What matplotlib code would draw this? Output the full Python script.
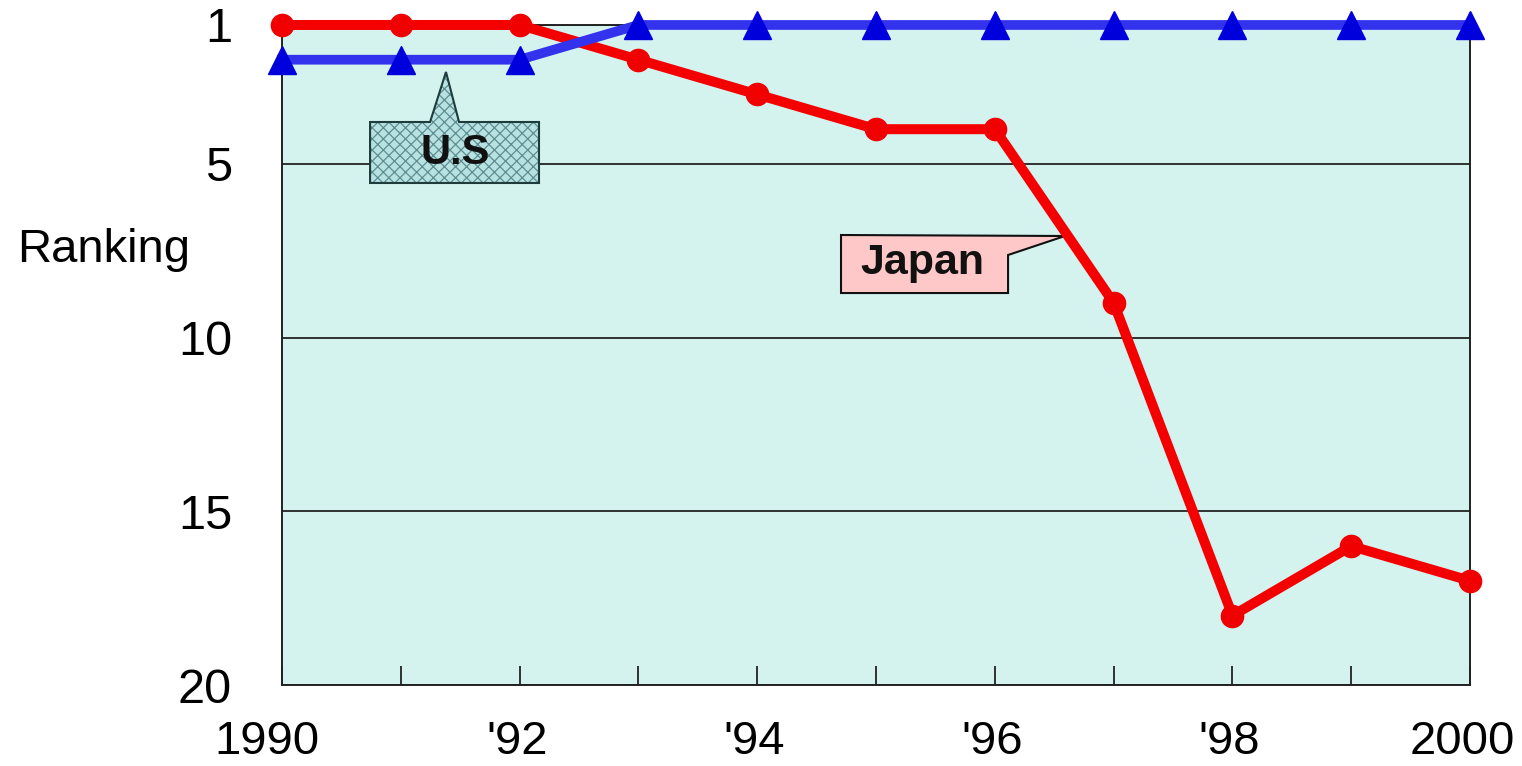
import matplotlib
matplotlib.use("Agg")
import matplotlib.pyplot as plt
from matplotlib.patches import Polygon
from matplotlib.transforms import ScaledTranslation

plt.rcParams['font.family'] = ['Liberation Sans', 'DejaVu Sans']
plt.rcParams['hatch.linewidth'] = 0.9

# Yearly ranking data
years = [1990, 1991, 1992, 1993, 1994, 1995, 1996, 1997, 1998, 1999, 2000]
japan_rank = [1, 1, 1, 2, 3, 4, 4, 9, 18, 16, 17]
us_rank = [2, 2, 2, 1, 1, 1, 1, 1, 1, 1, 1]
x_tick_labels = ['1990', '', "'92", '', "'94", '', "'96", '', "'98", '', '2000']
y_ticks = [1, 5, 10, 15, 20]

fig = plt.figure(figsize=(15.22, 7.66), dpi=100)
ax = fig.add_axes([0.1853, 0.1057, 0.7806, 0.8617])
ax.set_facecolor('#D4F2EE')

ax.set_xlim(years[0], years[-1])
ax.set_ylim(20, 1)

ax.set_xticks(years)
ax.set_xticklabels(x_tick_labels, fontsize=34)
ax.set_yticks(y_ticks)
ax.set_yticklabels([str(v) for v in y_ticks], fontsize=35)
ax.tick_params(axis='x', direction='in', length=14, width=1.3, color='#222222', pad=25)
ax.tick_params(axis='y', length=0, pad=36)

# Nudge the end year labels inward a little
label_shift_px = {0: -15, 10: -8}
for i, lab in enumerate(ax.get_xticklabels()):
    dx = label_shift_px.get(i, -3)
    lab.set_transform(lab.get_transform() + ScaledTranslation(dx / 100, 0, fig.dpi_scale_trans))

ax.yaxis.grid(True, color='#222222', linewidth=1.3)
ax.set_axisbelow(True)
for side in ['left', 'right', 'bottom', 'top']:
    ax.spines[side].set_color('#222222')
    ax.spines[side].set_linewidth(1.4)

# Series lines
ax.plot(years, japan_rank, color='#F50000', linewidth=7.2, marker='o',
        markersize=16, markerfacecolor='#F00000', markeredgecolor='#F00000',
        clip_on=False, zorder=6)
ax.plot(years, us_rank, color='#3333EE', linewidth=7.0, marker='^',
        markersize=20, markerfacecolor='#0000DD', markeredgecolor='#0000DD',
        clip_on=False, zorder=7)

# Callout for the U.S series (axes-fraction coordinates)
us_shape = [(0.0741, 0.853), (0.1246, 0.853), (0.1380, 0.9288), (0.1490, 0.853),
            (0.2163, 0.853), (0.2163, 0.7606), (0.0741, 0.7606)]
ax.add_patch(Polygon(us_shape, closed=True, transform=ax.transAxes,
                     facecolor='#B8E2E2', edgecolor='#5E8E90', hatch='xxx',
                     linewidth=0, zorder=4))
ax.add_patch(Polygon(us_shape, closed=True, transform=ax.transAxes,
                     facecolor='none', edgecolor='#1E3C3C', linewidth=1.5, zorder=4))
ax.text(0.1456, 0.806, 'U.S', transform=ax.transAxes, ha='center', va='center',
        fontsize=30, fontweight='bold', color='#111111', zorder=5)

# Callout for the Japan series
jp_shape = [(0.4705, 0.6818), (0.659, 0.6803), (0.6111, 0.6515),
            (0.6111, 0.5939), (0.4705, 0.5939)]
ax.add_patch(Polygon(jp_shape, closed=True, transform=ax.transAxes,
                     facecolor='#FFC8C8', edgecolor='#111111', linewidth=1.5, zorder=4))
ax.text(0.5387, 0.640, 'Japan', transform=ax.transAxes, ha='center', va='center',
        fontsize=31, fontweight='bold', color='#111111', zorder=5)

fig.text(17 / 1522, 1 - 250 / 766, 'Ranking', ha='left', va='center', fontsize=34)

fig.savefig('out.png', dpi=100, facecolor='white')
